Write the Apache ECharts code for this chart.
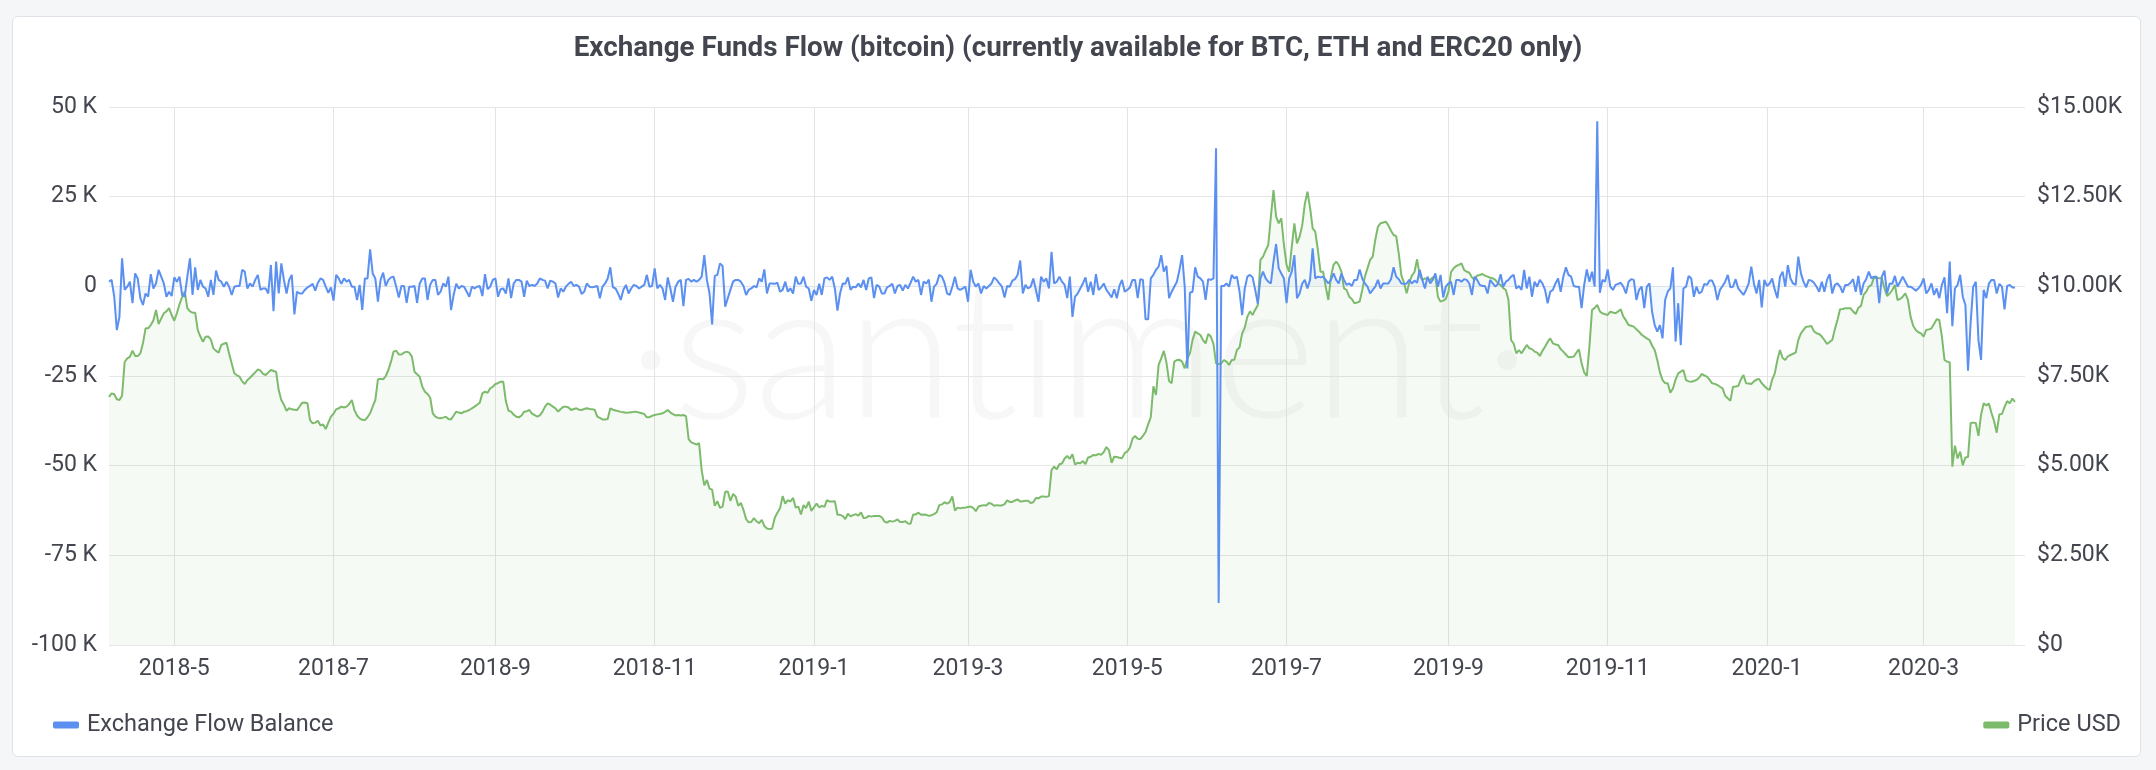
<!DOCTYPE html>
<html><head><meta charset="utf-8">
<script src="https://cdn.jsdelivr.net/npm/echarts/dist/echarts.min.js"></script>
<style>
html,body{margin:0;padding:0;width:2156px;height:770px;background:#f5f6f8;overflow:hidden;}
#card{position:absolute;left:12px;top:16px;width:2129px;height:741px;background:#fff;border:1px solid #dfe3e9;border-radius:6px;box-sizing:border-box;}
#wm{position:absolute;left:0;width:2156px;top:228px;text-align:center;font-family:Lato,sans-serif;font-weight:300;font-size:196px;line-height:230px;color:rgba(0,0,0,0.03);white-space:nowrap;letter-spacing:-2px;}
#chart{position:absolute;left:0;top:0;width:2156px;height:770px;}
</style></head><body>
<div id="card"></div>
<div id="wm">·santiment·</div>
<div id="chart"></div>
<script>
// first day of the daily series
const startDate = '2018-04-06';

// Price USD, daily
const priceUsd = [
6920,7017,6990,6850,6830,6950,7890,7990,8035,8205,
8060,8060,8130,8410,8830,8830,8920,9050,9340,8950,
9100,9250,9300,9390,9200,9040,9250,9500,9700,9850,
9390,9300,9265,9265,8780,8600,8457,8597,8600,8520,
8270,8200,8150,8365,8400,8430,8130,7850,7575,7520,
7480,7350,7277,7390,7450,7528,7600,7686,7650,7560,
7528,7600,7667,7640,7620,7100,6830,6700,6530,6600,
6570,6560,6550,6650,6756,6760,6740,6270,6180,6200,
6250,6120,6150,6020,6200,6366,6450,6570,6600,6645,
6620,6645,6720,6830,6550,6400,6320,6280,6270,6350,
6460,6650,6830,7407,7420,7407,7500,7667,7900,8180,
8205,8100,8100,8150,8180,8150,8040,7620,7550,7480,
7200,7063,7000,6900,6460,6366,6330,6320,6340,6366,
6300,6290,6400,6506,6480,6460,6506,6520,6552,6600,
6645,6700,6756,7017,7063,7030,7156,7200,7277,7300,
7342,7342,6800,6530,6506,6420,6366,6348,6400,6506,
6520,6552,6450,6413,6366,6400,6500,6645,6738,6700,
6645,6600,6506,6580,6645,6645,6620,6552,6580,6600,
6560,6552,6580,6600,6580,6570,6560,6366,6330,6290,
6290,6300,6600,6560,6540,6520,6500,6490,6478,6480,
6490,6500,6500,6480,6460,6440,6348,6350,6390,6413,
6430,6440,6460,6500,6552,6480,6440,6400,6410,6400,
6413,6380,5740,5650,5620,5590,5630,4870,4450,4600,
4360,4330,3880,4010,3820,3860,4270,4280,4020,4210,
4140,3880,3960,3770,3510,3420,3430,3540,3450,3400,
3490,3320,3250,3230,3250,3550,3690,3810,4150,3940,
4040,4000,4100,3830,3860,3640,3900,3820,4000,3740,
3840,3940,3840,3880,3850,4040,4000,4000,4010,3630,
3630,3600,3510,3660,3590,3620,3650,3610,3700,3540,
3550,3600,3580,3600,3600,3600,3560,3440,3410,3460,
3440,3460,3500,3430,3430,3450,3390,3380,3640,3640,
3690,3630,3640,3630,3600,3620,3650,3700,3900,3920,
3980,3940,3990,4140,3750,3830,3810,3830,3830,3850,
3860,3820,3730,3860,3880,3900,3890,3960,3940,3880,
3900,3890,3890,3930,4030,3990,3990,4030,4060,4000,
4010,4020,4020,3960,3980,4100,4090,4140,4140,4130,
4150,4880,4970,4900,5040,5060,5200,5270,5190,5320,
5030,5080,5070,5130,5040,5230,5250,5300,5290,5330,
5300,5380,5520,5430,5080,5250,5240,5220,5210,5350,
5400,5500,5750,5830,5750,5740,5830,5940,6150,6350,
7210,6970,7810,7990,8200,7880,7360,7300,7900,7946,
7950,7900,7714,7990,8130,8500,8736,8690,8643,8500,
8410,8670,8600,8400,7853,7835,7850,7946,7900,7807,
7946,7950,8225,8300,8690,8850,9155,9300,9200,9350,
9480,10735,10828,11000,11153,11943,12686,11943,11757,11897,
11153,10600,10400,11106,11757,11200,11385,11700,12300,12640,
12200,11618,11524,11013,10410,10410,10000,9619,10270,10600,
10688,10595,10410,9945,9898,9712,9650,9526,9550,9573,
9898,10270,10500,10735,10828,11300,11664,11757,11780,11803,
11700,11550,11432,11400,10900,10300,10100,9805,10100,10300,
10400,10754,10300,10177,10223,10200,10177,10250,10270,9700,
9573,9600,9650,9852,10400,10502,10567,10600,10642,10456,
10410,10380,10250,10177,10300,10317,10344,10300,10270,10240,
10223,10180,10084,10037,9950,9898,9619,8504,8400,8132,
8225,8132,8250,8365,8272,8250,8179,8150,8058,8200,
8318,8450,8550,8411,8380,8365,8250,8179,8100,8020,
8030,8040,8150,8244,7853,7600,7500,8318,9340,9400,
9480,9300,9247,9220,9201,9294,9270,9250,9300,9359,
9155,9050,8922,8900,8876,8800,8736,8650,8597,8550,
8504,8350,8225,7946,7600,7388,7300,7296,7036,7150,
7400,7575,7620,7667,7388,7350,7342,7360,7390,7450,
7556,7520,7482,7400,7296,7280,7250,7200,7156,6950,
6878,6813,7203,7210,7222,7400,7528,7296,7290,7277,
7350,7400,7417,7300,7222,7150,7110,7400,7574,7946,
8225,8000,7946,8050,8086,8120,8151,8500,8690,8783,
8876,8880,8894,8750,8690,8671,8600,8504,8393,8450,
8504,8800,9062,9359,9370,9387,9390,9387,9300,9229,
9400,9452,9759,9850,9991,10037,10242,10230,10223,10223,
9945,9731,9800,9898,10037,9619,9650,9712,9805,9619,
9155,8900,8783,8720,8690,8597,8783,8800,8829,8950,
9080,9062,8597,7946,7900,7880,4970,5560,5200,5390,
5010,5230,5240,6190,6200,6190,5830,6420,6740,6680,
6730,6470,6240,5920,6430,6440,6640,6800,6740,6870,
6780
];

// Exchange Flow Balance, daily, in thousands of BTC
const flowK = [
1.3,1.8,-2.9,-12.2,-8.5,7.8,-1.0,-0.1,1.3,-4.7,
3.6,2.2,-3.3,-5.2,-2.0,-2.9,3.4,-0.6,0.8,4.6,
2.7,0.8,-2.9,-1.5,-2.7,2.5,1.3,2.7,-2.4,-2.9,
2.7,7.8,-2.4,5.3,-1.0,1.8,-0.1,-0.6,-2.9,1.8,
-2.4,4.4,1.8,1.3,-0.1,1.3,-0.1,-2.4,-0.1,0.1,
0.1,4.6,4.1,-0.6,0.8,-0.1,1.8,3.2,-1.0,-0.6,
-0.6,-2.0,5.9,-6.9,6.9,-2.0,6.4,1.8,-2.0,1.8,
3.2,-7.8,-1.5,-2.0,-2.0,-1.0,-0.3,0.1,0.7,-1.2,
1.0,2.2,1.8,-0.1,-1.8,-0.3,-4.0,3.2,2.2,0.7,
2.2,1.3,1.8,-0.1,-0.1,-3.8,0.4,-6.6,2.2,2.2,
10.3,3.6,2.2,-4.3,1.8,3.8,0.1,1.8,2.5,2.7,
-0.1,-3.1,0.1,0.1,-4.6,-0.1,-0.1,0.1,-4.6,0.8,
2.2,2.2,-3.8,0.4,1.8,1.8,-2.4,-1.5,0.8,-0.1,
2.7,-6.6,-2.4,0.7,-0.6,0.1,-0.1,-1.5,-2.9,-0.1,
-0.6,-0.1,0.1,-2.7,3.4,-0.8,-0.1,1.8,2.2,-2.9,
-0.8,-0.6,-2.0,2.2,-3.3,0.8,1.8,1.8,1.3,-2.9,
1.6,0.1,0.4,0.1,0.8,2.2,1.8,1.6,-0.6,1.6,
1.3,0.8,-3.1,-0.6,-1.5,-0.1,0.7,1.3,0.1,0.4,
-0.1,-2.1,-1.5,0.8,-0.1,-0.3,-0.1,0.1,-3.3,-0.1,
0.8,2.2,5.3,-0.3,-0.6,-2.0,-3.8,-1.0,0.4,-2.0,
-0.6,0.4,0.1,-0.6,-0.1,0.4,3.2,-0.1,0.1,5.0,
-0.6,0.4,-0.6,-3.8,2.5,-0.6,-4.3,-0.1,1.3,1.8,
-5.5,1.8,2.1,1.3,1.8,1.3,1.8,2.7,8.7,1.8,
-2.0,-10.6,2.9,3.2,6.4,5.7,-5.7,-3.3,-1.0,1.3,
1.8,1.8,1.3,0.1,-2.4,-1.0,-0.6,0.1,-0.3,2.2,
1.3,4.7,-2.0,0.8,0.8,0.7,1.0,-1.5,-1.0,1.3,
-1.5,-0.6,-2.0,2.7,0.7,0.8,2.7,-0.1,-0.6,-4.0,
-1.0,-2.4,0.7,-2.4,2.2,2.5,1.8,2.7,-0.6,-6.8,
-2.0,0.8,0.7,2.5,-1.0,-0.1,-0.3,0.8,-0.3,1.8,
-1.0,2.2,2.5,-3.3,0.4,-0.1,-2.0,-2.0,-0.3,0.1,
0.7,-2.0,0.1,0.4,-1.2,0.4,-0.6,1.0,2.7,1.3,
1.8,-2.4,1.3,0.8,1.9,-4.3,-0.1,0.7,3.2,2.7,
1.0,-2.0,-2.4,-0.1,2.7,-0.6,-1.0,-0.6,-0.1,-4.3,
4.6,1.3,-0.1,0.8,-2.0,0.1,-0.6,0.1,0.8,2.5,
1.8,0.8,-0.1,-3.1,0.1,-0.1,1.6,2.0,3.2,7.2,
-2.0,0.4,-0.6,-0.1,2.2,-1.0,-4.3,2.7,1.3,2.2,
-0.6,9.6,0.8,1.3,2.7,1.3,0.4,-3.3,2.7,-8.5,
-2.9,-2.0,-0.6,0.8,2.5,-1.5,1.3,-2.4,3.4,-1.0,
-0.3,0.8,-1.0,-2.0,-3.1,-0.8,-3.3,0.1,1.8,-1.5,
-1.0,-0.3,1.8,1.8,-3.3,2.0,1.8,-9.2,-9.2,2.2,
3.2,4.6,5.5,8.7,4.1,5.7,-3.3,-1.5,-0.1,1.3,
4.6,8.7,-0.1,-22.9,-1.8,-1.5,5.3,2.7,2.2,1.3,
-3.8,2.0,1.8,2.2,38.5,-88.3,0.1,0.1,0.8,-0.1,
3.2,2.2,2.7,-1.5,-8.0,-0.6,2.7,3.2,2.5,-1.0,
-4.9,2.2,4.1,2.2,1.3,0.8,6.9,11.8,5.0,3.6,
2.2,-4.7,2.2,4.1,8.7,-3.3,-2.0,0.8,1.8,-0.6,
1.8,10.6,2.2,2.7,2.5,2.7,1.8,0.8,1.8,3.6,
1.8,0.8,3.6,1.8,0.4,0.8,0.1,1.8,1.8,4.7,
2.2,0.8,-0.1,-2.0,-1.0,-0.1,1.8,-0.6,0.8,0.8,
0.8,2.0,5.3,2.7,2.0,0.8,0.7,0.8,1.8,0.8,
1.6,1.0,4.6,1.8,-0.6,2.7,0.8,1.8,3.6,-0.1,
3.2,-3.1,-0.1,0.8,1.3,-2.4,1.8,1.8,1.3,2.0,
1.8,0.8,-2.4,2.7,1.8,0.4,0.1,0.1,-2.0,1.8,
0.8,-0.1,0.7,3.4,-0.1,1.3,1.8,2.7,3.2,-0.6,
0.1,-1.0,4.6,-0.6,2.7,-2.9,1.3,-0.1,1.8,0.8,
-1.0,-4.7,-1.5,-1.0,0.8,2.2,-1.5,2.7,5.3,3.2,
2.7,0.1,-0.1,-0.1,-6.1,0.4,4.7,1.3,4.1,-0.1,
46.0,-1.8,1.8,1.3,4.7,-0.1,-1.0,0.4,0.7,1.0,
-0.1,-2.0,1.3,2.0,1.8,-3.8,-1.0,-0.1,-6.1,-0.1,
0.8,-7.1,-10.8,-12.6,-10.8,-14.5,-3.8,-1.5,-0.6,5.3,
-15.4,-4.7,-16.4,-0.6,-0.1,2.9,2.2,-2.9,-0.1,-2.0,
-1.5,0.7,0.4,1.6,1.6,-0.1,-3.8,-1.0,0.1,1.3,
3.2,-0.3,-0.1,2.0,-0.6,-1.5,-2.4,-1.0,0.8,5.5,
0.8,-2.0,1.8,-5.9,1.8,0.1,0.8,2.2,-1.0,-3.3,
2.7,4.1,-0.1,5.9,2.2,0.8,0.4,8.3,3.6,1.3,
-0.3,1.8,1.6,1.0,-0.1,-1.5,1.3,-1.5,1.8,3.4,
-2.0,0.4,0.8,-0.1,-1.8,0.4,0.4,1.0,2.0,-1.5,
2.9,-2.4,0.8,2.0,4.1,2.2,2.7,2.7,-4.7,2.7,
4.4,-2.0,0.8,0.7,2.9,-0.1,1.3,2.7,1.3,-0.1,
-0.1,-0.6,-1.2,-0.6,0.4,2.2,-2.0,-1.0,0.8,-2.4,
-0.6,-3.3,0.4,2.5,-7.5,6.9,-11.1,-0.6,0.4,3.2,
-2.9,-5.2,-23.5,-10.3,-0.1,1.3,-15.0,-20.5,-1.0,-3.3,
0.8,1.8,1.8,-2.0,0.7,-0.1,-6.4,0.1,0.4,-0.3,
-0.3
];

const titleText = 'Exchange Funds Flow (bitcoin) (currently available for BTC, ETH and ERC20 only)';
const flowName = 'Exchange Flow Balance';
const priceName = 'Price USD';
const flowAxis = { min: -100000, max: 50000, interval: 25000 };
const priceAxis = { min: 0, max: 15000, interval: 2500 };

// build dates
const n = Math.max(priceUsd.length, flowK.length);
const dates = [];
{
  const d0 = new Date(startDate + 'T00:00:00Z');
  for (let i = 0; i < n; i++) {
    const d = new Date(d0.getTime() + i * 86400000);
    dates.push(d.toISOString().slice(0, 10));
  }
}
const isTick = (idx, val) => {
  const [y, m, d] = val.split('-');
  return d === '01' && (+m) % 2 === 1;
};
const flowVals = flowK.map(v => Math.round(v * 1000));

const FONT = 'Roboto, "Noto Sans", sans-serif';
const TXT = '#44464f';
const BLUE = '#5b8ff0';
const GREEN = '#7dbb6c';

const chart = echarts.init(document.getElementById('chart'), null, { renderer: 'canvas' });
chart.setOption({
  animation: false,
  backgroundColor: 'transparent',
  title: {
    text: titleText, left: 'center', top: 30,
    textStyle: { fontFamily: FONT, fontSize: 27.8, fontWeight: 'bold', color: '#43464f' }
  },
  legend: [
    { data: [flowName], left: 48, top: 708, icon: 'roundRect', itemWidth: 26, itemHeight: 7,
      textStyle: { fontFamily: FONT, fontSize: 23.5, color: TXT, padding: [0, 0, 0, 3] } },
    { data: [priceName], right: 30, top: 708, icon: 'roundRect', itemWidth: 26, itemHeight: 7,
      textStyle: { fontFamily: FONT, fontSize: 23.5, color: TXT, padding: [0, 0, 0, 3] } }
  ],
  grid: { left: 109, right: 141, top: 107, bottom: 125, containLabel: false, outerBoundsMode: 'none' },
  xAxis: {
    type: 'category', data: dates, boundaryGap: false,
    axisLine: { show: false }, axisTick: { show: false },
    axisLabel: {
      interval: isTick, margin: 13, fontFamily: FONT, fontSize: 23, color: TXT,
      formatter: v => { const p = v.split('-'); return p[0] + '-' + (+p[1]); }
    },
    splitLine: { show: true, interval: isTick, lineStyle: { color: '#e4e4e4', width: 1 } }
  },
  yAxis: [
    { type: 'value', min: flowAxis.min, max: flowAxis.max, interval: flowAxis.interval, position: 'left',
      axisLine: { show: false }, axisTick: { show: false },
      axisLabel: { margin: 12, fontFamily: FONT, fontSize: 23, color: TXT,
        formatter: v => v === 0 ? '0' : (v / 1000) + ' K' },
      splitLine: { show: true, lineStyle: { color: '#e6e6e6', width: 1 } } },
    { type: 'value', min: priceAxis.min, max: priceAxis.max, interval: priceAxis.interval, position: 'right',
      axisLine: { show: false },
      axisTick: { show: true, length: 10, lineStyle: { color: '#e6e6e6' } },
      axisLabel: { margin: 22, fontFamily: FONT, fontSize: 23, color: TXT,
        formatter: v => v === 0 ? '$0' : '$' + (v / 1000).toFixed(2) + 'K' },
      splitLine: { show: false } }
  ],
  series: [
    { name: priceName, type: 'line', yAxisIndex: 1, data: priceUsd, showSymbol: false, symbol: 'none',
      lineStyle: { color: GREEN, width: 2 }, itemStyle: { color: GREEN },
      areaStyle: { color: 'rgba(125,187,108,0.10)', origin: 'start' }, z: 2 },
    { name: flowName, type: 'line', yAxisIndex: 0, data: flowVals, showSymbol: false, symbol: 'none',
      lineStyle: { color: BLUE, width: 2 }, itemStyle: { color: BLUE },
      areaStyle: { color: 'rgba(91,143,240,0.10)' }, z: 3 }
  ]
});
</script>
</body></html>
